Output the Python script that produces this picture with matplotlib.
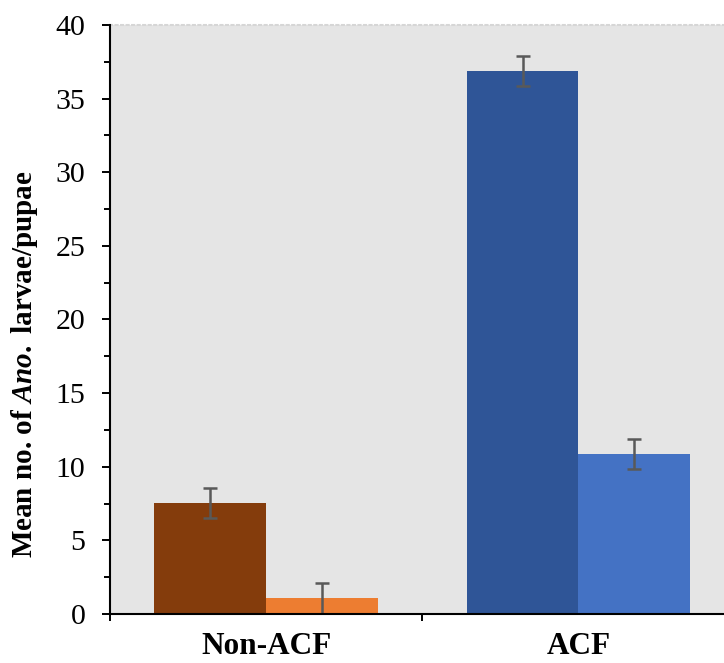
import numpy as np
import matplotlib
matplotlib.use('Agg')
import matplotlib.pyplot as plt
from matplotlib.ticker import MultipleLocator, FixedLocator

plt.rcParams['font.family'] = 'Liberation Serif'
plt.rcParams['mathtext.fontset'] = 'custom'
plt.rcParams['mathtext.rm'] = 'Liberation Serif:bold'
plt.rcParams['mathtext.bfit'] = 'Liberation Serif:bold:italic'
plt.rcParams['mathtext.it'] = 'Liberation Serif:bold:italic'

# data
sites = ['Non-ACF', 'ACF']
first_means = [7.57, 36.9]    # brown / dark blue
first_err = [1.02, 1.02]
second_means = [1.08, 10.85]  # orange / light blue
second_err = [1.05, 1.02]
first_colors = ['#843c0c', '#2f5597']
second_colors = ['#ed7d31', '#4472c4']

fig = plt.figure(figsize=(7.24, 6.63), dpi=100)
ax = fig.add_axes([0.1519, 0.0739, 0.8481, 0.8884])
ax.set_facecolor('#e5e5e5')

x = np.arange(len(sites))
w = 0.358
ekw = dict(ecolor='#595959', elinewidth=1.8, capsize=4.7, capthick=1.8)
ax.bar(x - w / 2, first_means, w, color=first_colors, yerr=first_err,
       error_kw=ekw, zorder=2)
ax.bar(x + w / 2, second_means, w, color=second_colors, yerr=second_err,
       error_kw=ekw, zorder=2)

ax.set_xlim(-0.5, 1.466)
ax.set_ylim(0, 40)

ax.yaxis.set_major_locator(MultipleLocator(5))
ax.yaxis.set_minor_locator(MultipleLocator(2.5))
ax.tick_params(axis='y', which='major', length=5.8, width=1.4, labelsize=21.5, pad=12)
ax.tick_params(axis='y', which='minor', length=4.3, width=1.4)

ax.set_xticks(x)
ax.set_xticklabels(sites, fontweight='bold', fontsize=22.5)
ax.xaxis.set_minor_locator(FixedLocator([-0.5, 0.5]))
ax.tick_params(axis='x', which='major', length=0, pad=13)
ax.tick_params(axis='x', which='minor', length=5, width=1.4)

ax.spines['right'].set_visible(False)
ax.spines['top'].set_color('#d6d6d6')
ax.spines['top'].set_linestyle(':')
ax.spines['top'].set_linewidth(1.5)
ax.spines['left'].set_linewidth(1.5)
ax.spines['bottom'].set_linewidth(1.5)
ax.spines['left'].set_zorder(3)
ax.spines['bottom'].set_zorder(3)

ax.set_ylabel(r'Mean no. of $\mathit{Ano.}$ larvae/pupae', fontweight='bold', fontsize=21)
ax.yaxis.set_label_coords(-0.114, 0.4236)

fig.savefig('out.png', dpi=100)
